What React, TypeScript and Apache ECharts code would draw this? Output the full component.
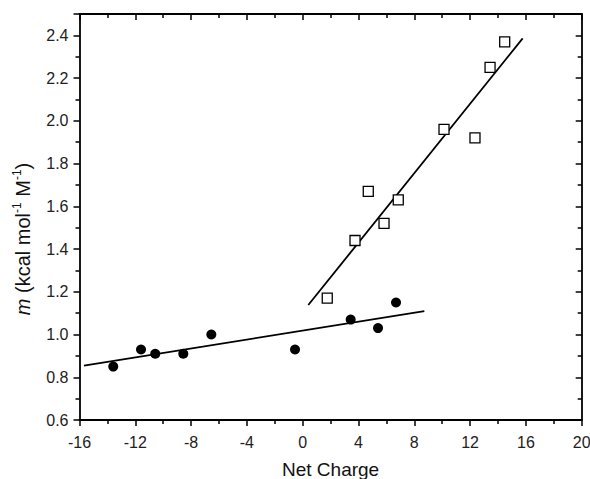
import React, { useEffect, useRef } from "react";
import * as echarts from "echarts";

// Open squares (upper series)
const squareX = [1.76, 3.75, 4.7, 5.83, 6.85, 10.13, 12.35, 13.43, 14.48];
const squareY = [1.17, 1.44, 1.67, 1.52, 1.63, 1.96, 1.92, 2.25, 2.37];
// Filled circles (lower series)
const circleX = [-13.58, -11.59, -10.57, -8.56, -6.55, -0.55, 3.44, 5.4, 6.69];
const circleY = [0.85, 0.93, 0.91, 0.91, 1.0, 0.93, 1.07, 1.03, 1.15];
// Linear fits (end points)
const squareFitX = [0.4, 15.77];
const squareFitY = [1.138, 2.386];
const circleFitX = [-15.68, 8.72];
const circleFitY = [0.854, 1.11];
// Axis ticks
const yMajorTicks = [0.6, 0.8, 1.0, 1.2, 1.4, 1.6, 1.8, 2.0, 2.2, 2.4, 2.5];
const yLabelTicks = [0.6, 0.8, 1.0, 1.2, 1.4, 1.6, 1.8, 2.0, 2.2, 2.4];
const yMinorTicks = [0.7, 0.9, 1.1, 1.3, 1.5, 1.7, 1.9, 2.1, 2.3];

const zip = (xs: number[], ys: number[]) => xs.map((x, i) => [x, ys[i]]);

const FONT = "Liberation Sans";

export default function App() {
  const ref = useRef<HTMLDivElement>(null);
  useEffect(() => {
    if (!ref.current) return;
    const chart = echarts.init(ref.current, undefined, { renderer: "svg" });
    const axisLine = { show: true, onZero: false, lineStyle: { color: "#000", width: 1.8 } };
    const xBase = { type: "value", min: -16, max: 20, interval: 4, splitLine: { show: false } };
    const yBase = { type: "value", min: 0.6, max: 2.5, splitLine: { show: false } };
    chart.setOption({
      animation: false,
      backgroundColor: "#fff",
      grid: { left: 79.5, right: 8.3, top: 14, bottom: 59, containLabel: false, outerBoundsMode: "none" },
      xAxis: [
        {
          ...xBase,
          position: "bottom",
          axisLine,
          axisTick: { inside: false, length: 6, lineStyle: { color: "#000", width: 1.5 } },
          minorTick: { show: true, splitNumber: 2, length: 4, lineStyle: { color: "#000", width: 1.5 } },
          axisLabel: { fontSize: 16, color: "#222", margin: 14, fontFamily: FONT },
          name: "Net Charge",
          nameLocation: "middle",
          nameGap: 40,
          nameTextStyle: { fontSize: 19, color: "#111", fontFamily: FONT },
        },
        {
          ...xBase,
          position: "top",
          axisLine,
          axisTick: { inside: true, length: 6, lineStyle: { color: "#000", width: 1.5 } },
          minorTick: { show: true, splitNumber: 2, length: 4, lineStyle: { color: "#000", width: 1.5 } },
          axisLabel: { show: false },
        },
      ],
      yAxis: [
        {
          ...yBase,
          position: "left",
          axisLine,
          axisTick: { inside: false, length: 6, customValues: yMajorTicks, lineStyle: { color: "#000", width: 1.5 } },
          axisLabel: {
            customValues: yLabelTicks,
            formatter: (v: number) => v.toFixed(1),
            fontSize: 16,
            color: "#222",
            margin: 11,
            fontFamily: FONT,
          },
          name: "{i|m} (kcal mol{s|-1} M{s|-1})",
          nameLocation: "middle",
          nameGap: 34,
          nameTextStyle: {
            fontSize: 20,
            color: "#111",
            fontFamily: FONT,
            lineHeight: 24,
            padding: [0, 44, 0, 0],
            rich: {
              i: { fontStyle: "italic", fontSize: 20, fontFamily: FONT, color: "#111", lineHeight: 24 },
              s: { fontSize: 12, fontFamily: FONT, color: "#111", verticalAlign: "top", lineHeight: 13 },
            },
          },
        },
        {
          ...yBase,
          position: "left",
          axisLine: { show: false, onZero: false },
          axisTick: { inside: false, length: 4, customValues: yMinorTicks, lineStyle: { color: "#000", width: 1.5 } },
          axisLabel: { show: false },
        },
        {
          ...yBase,
          position: "right",
          axisLine,
          axisTick: { inside: true, length: 6, customValues: yMajorTicks, lineStyle: { color: "#000", width: 1.5 } },
          axisLabel: { show: false },
        },
        {
          ...yBase,
          position: "right",
          axisLine: { show: false, onZero: false },
          axisTick: { inside: true, length: 4, customValues: yMinorTicks, lineStyle: { color: "#000", width: 1.5 } },
          axisLabel: { show: false },
        },
      ],
      series: [
        {
          type: "line",
          data: zip(squareFitX, squareFitY),
          showSymbol: false,
          symbol: "none",
          lineStyle: { color: "#000", width: 1.8 },
          silent: true,
        },
        {
          type: "line",
          data: zip(circleFitX, circleFitY),
          showSymbol: false,
          symbol: "none",
          lineStyle: { color: "#000", width: 1.8 },
          silent: true,
        },
        {
          type: "scatter",
          data: zip(squareX, squareY),
          symbol: "rect",
          symbolSize: 10,
          itemStyle: { color: "#fff", borderColor: "#000", borderWidth: 1.3, opacity: 1 },
          z: 3,
        },
        {
          type: "scatter",
          data: zip(circleX, circleY),
          symbol: "circle",
          symbolSize: 10,
          itemStyle: { color: "#000", opacity: 1 },
          z: 3,
        },
      ],
    });
    return () => chart.dispose();
  }, []);
  return <div ref={ref} style={{ width: 590, height: 479, position: "absolute", left: 0, top: 0 }} />;
}
